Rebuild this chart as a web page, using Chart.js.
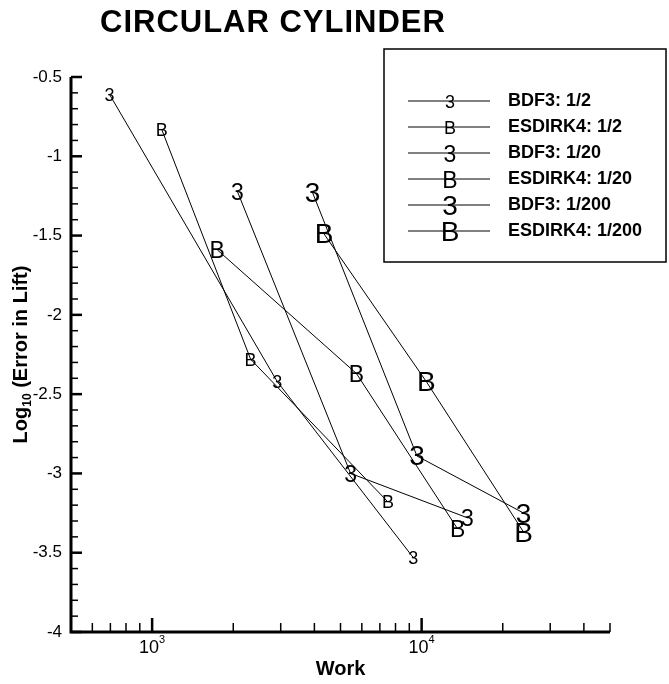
<!DOCTYPE html>
<html>
<head>
<meta charset="utf-8">
<script src="https://cdn.jsdelivr.net/npm/chart.js@4.4.0/dist/chart.umd.min.js"></script>
<style>
  html, body { margin: 0; padding: 0; background: #fff; }
</style>
</head>
<body>
<canvas id="myChart" width="669" height="684"></canvas>
<script>
// Convergence data: work vs log10 of lift error
const seriesNames = ['BDF3: 1/2', 'ESDIRK4: 1/2', 'BDF3: 1/20', 'ESDIRK4: 1/20', 'BDF3: 1/200', 'ESDIRK4: 1/200'];
const seriesSymbols = ['3', 'B', '3', 'B', '3', 'B'];

const bdf3HalfWork = [695, 2910, 9300];
const bdf3HalfErr = [-0.61, -2.42, -3.53];
const esdirk4HalfWork = [1085, 2320, 7500];
const esdirk4HalfErr = [-0.83, -2.28, -3.18];
const bdf3TwentiethWork = [2070, 5450, 14800];
const bdf3TwentiethErr = [-1.22, -3.00, -3.28];
const esdirk4TwentiethWork = [1745, 5730, 13600];
const esdirk4TwentiethErr = [-1.59, -2.37, -3.35];
const bdf3TwoHundredthWork = [3940, 9610, 23900];
const bdf3TwoHundredthErr = [-1.23, -2.89, -3.25];
const esdirk4TwoHundredthWork = [4345, 10400, 23900];
const esdirk4TwoHundredthErr = [-1.49, -2.42, -3.37];

// axis ticks
const xMajorTicks = [1000, 10000];
const xMajorExponents = ['3', '4'];
const xMinorTicks = [600, 700, 800, 900, 2000, 3000, 4000, 5000, 6000, 7000, 8000, 9000, 20000, 30000, 40000, 50000];
const yMajorTicks = [-4, -3.5, -3, -2.5, -2, -1.5, -1, -0.5];
const yTickLabels = ['-4', '-3.5', '-3', '-2.5', '-2', '-1.5', '-1', '-0.5'];

const seriesWork = [bdf3HalfWork, esdirk4HalfWork, bdf3TwentiethWork, esdirk4TwentiethWork, bdf3TwoHundredthWork, esdirk4TwoHundredthWork];
const seriesErr = [bdf3HalfErr, esdirk4HalfErr, bdf3TwentiethErr, esdirk4TwentiethErr, bdf3TwoHundredthErr, esdirk4TwoHundredthErr];

// symbol font size per resolution (1/2, 1/20, 1/200)
const symbolSize = [18, 18, 23, 23, 28, 28];
const FONT = '"Liberation Sans", Arial, Helvetica, sans-serif';

function drawSymbol(ctx, sym, size, x, y) {
    ctx.font = size + 'px ' + FONT;
    ctx.textAlign = 'center';
    ctx.textBaseline = 'alphabetic';
    const h = ctx.measureText(sym).actualBoundingBoxAscent;
    ctx.fillText(sym, x, y + h / 2);
}

const decorPlugin = {
    id: 'decor',
    afterDatasetsDraw(chart) {
        const ctx = chart.ctx;
        ctx.save();
        ctx.fillStyle = '#000';
        chart.data.datasets.forEach((ds, i) => {
            chart.getDatasetMeta(i).data.forEach(pt => {
                drawSymbol(ctx, seriesSymbols[i], symbolSize[i], pt.x, pt.y);
            });
        });
        ctx.restore();
    },
    afterDraw(chart) {
        const ctx = chart.ctx;
        const xs = chart.scales.x;
        const ys = chart.scales.y;
        const area = chart.chartArea;
        ctx.save();
        ctx.strokeStyle = '#000';
        ctx.fillStyle = '#000';

        // axis lines
        ctx.lineWidth = 3;
        ctx.beginPath();
        ctx.moveTo(area.left, area.top);
        ctx.lineTo(area.left, area.bottom);
        ctx.lineTo(area.right, area.bottom);
        ctx.stroke();

        // x ticks (inward)
        ctx.lineWidth = 2.5;
        xMajorTicks.forEach(v => {
            const px = xs.getPixelForValue(v);
            ctx.beginPath();
            ctx.moveTo(px, area.bottom);
            ctx.lineTo(px, area.bottom - 14);
            ctx.stroke();
        });
        ctx.lineWidth = 1.5;
        xMinorTicks.forEach(v => {
            const px = xs.getPixelForValue(v);
            ctx.beginPath();
            ctx.moveTo(px, area.bottom);
            ctx.lineTo(px, area.bottom - 9);
            ctx.stroke();
        });

        // y ticks (inward)
        ctx.lineWidth = 2.5;
        yMajorTicks.forEach(v => {
            const py = ys.getPixelForValue(v);
            ctx.beginPath();
            ctx.moveTo(area.left, py);
            ctx.lineTo(area.left + 11, py);
            ctx.stroke();
        });
        ctx.lineWidth = 1.5;
        for (let k = -39; k <= -5; k++) {
            if (k % 5 === 0) continue;
            const py = ys.getPixelForValue(k / 10);
            ctx.beginPath();
            ctx.moveTo(area.left, py);
            ctx.lineTo(area.left + 7, py);
            ctx.stroke();
        }

        // y tick labels
        ctx.font = '17px ' + FONT;
        ctx.textAlign = 'right';
        ctx.textBaseline = 'middle';
        yMajorTicks.forEach((v, i) => {
            ctx.fillText(yTickLabels[i], area.left - 9, ys.getPixelForValue(v));
        });

        // x tick labels: 10 with exponent
        xMajorTicks.forEach((v, i) => {
            const px = xs.getPixelForValue(v);
            ctx.font = '18px ' + FONT;
            const wBase = ctx.measureText('10').width;
            ctx.font = '11px ' + FONT;
            const wExp = ctx.measureText(xMajorExponents[i]).width;
            const x0 = px - (wBase + wExp) / 2;
            ctx.textAlign = 'left';
            ctx.textBaseline = 'alphabetic';
            ctx.font = '18px ' + FONT;
            ctx.fillText('10', x0, area.bottom + 21);
            ctx.font = '11px ' + FONT;
            ctx.fillText(xMajorExponents[i], x0 + wBase, area.bottom + 11);
        });

        // axis titles
        ctx.font = 'bold 20px ' + FONT;
        ctx.textAlign = 'center';
        ctx.textBaseline = 'alphabetic';
        ctx.fillText('Work', (area.left + area.right) / 2, area.bottom + 43);

        ctx.save();
        ctx.translate(27, (area.top + area.bottom) / 2);
        ctx.rotate(-Math.PI / 2);
        const partA = 'Log';
        const partSub = '10';
        const partB = ' (Error in Lift)';
        ctx.font = 'bold 20px ' + FONT;
        const wA = ctx.measureText(partA).width;
        const wB = ctx.measureText(partB).width;
        ctx.font = 'bold 12px ' + FONT;
        const wS = ctx.measureText(partSub).width;
        let tx = -(wA + wS + wB) / 2;
        ctx.textAlign = 'left';
        ctx.font = 'bold 20px ' + FONT;
        ctx.fillText(partA, tx, 0);
        tx += wA;
        ctx.font = 'bold 12px ' + FONT;
        ctx.fillText(partSub, tx, 4);
        tx += wS;
        ctx.font = 'bold 20px ' + FONT;
        ctx.fillText(partB, tx, 0);
        ctx.restore();

        // chart title
        ctx.save();
        ctx.font = 'bold 31px ' + FONT;
        ctx.letterSpacing = '1px';
        ctx.textAlign = 'left';
        ctx.fillText('CIRCULAR CYLINDER', 100, 32);
        ctx.restore();

        // legend box
        ctx.lineWidth = 1.5;
        ctx.strokeRect(384, 49, 282, 213);
        seriesNames.forEach((name, i) => {
            const ly = 101 + i * 26;
            ctx.lineWidth = 1;
            ctx.beginPath();
            ctx.moveTo(408, ly);
            ctx.lineTo(490, ly);
            ctx.stroke();
            drawSymbol(ctx, seriesSymbols[i], symbolSize[i], 450, ly);
            ctx.font = 'bold 18px ' + FONT;
            ctx.textAlign = 'left';
            ctx.textBaseline = 'middle';
            ctx.fillText(name, 508, ly);
        });
        ctx.restore();
    }
};

const ctx = document.getElementById('myChart').getContext('2d');
const myChart = new Chart(ctx, {
    type: 'scatter',
    data: {
        datasets: seriesNames.map((name, i) => ({
            label: name,
            data: seriesWork[i].map((w, j) => ({ x: w, y: seriesErr[i][j] })),
            showLine: true,
            borderColor: '#000',
            borderWidth: 1,
            pointRadius: 0,
            tension: 0
        }))
    },
    options: {
        responsive: false,
        animation: false,
        layout: { padding: { left: 71, top: 77, right: 59, bottom: 52 } },
        scales: {
            x: { type: 'logarithmic', min: 500, max: 50000, display: false },
            y: { type: 'linear', min: -4, max: -0.5, display: false }
        },
        plugins: {
            legend: { display: false },
            tooltip: { enabled: false }
        }
    },
    plugins: [decorPlugin]
});
</script>
</body>
</html>
